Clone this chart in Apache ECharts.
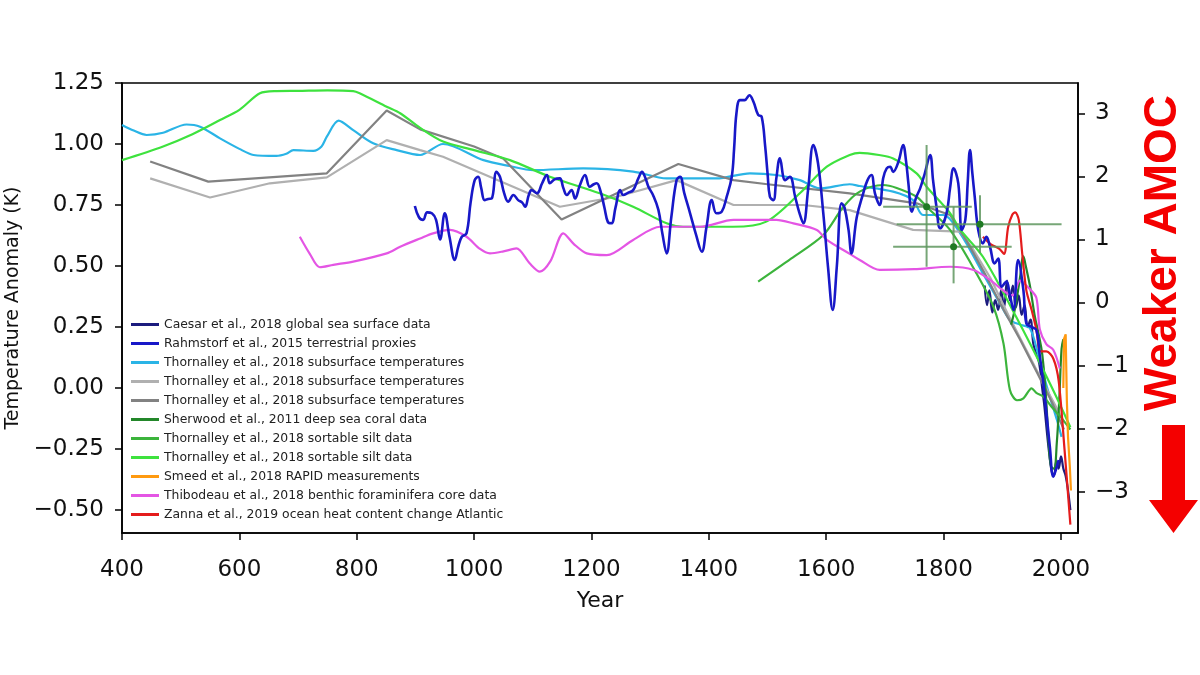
<!DOCTYPE html>
<html>
<head>
<meta charset="utf-8">
<title>AMOC proxies</title>
<script src="https://cdn.jsdelivr.net/npm/echarts@6.0.0/dist/echarts.min.js"></script>
<style>
  html, body { margin: 0; padding: 0; background: #fff; }
  #main { width: 1200px; height: 675px; }
</style>
</head>
<body>
<div id="main"></div>
<script>
// legend names (trailing spaces keep the repeated names apart in the legend)
const names = [
  'Caesar et al., 2018 global sea surface data',
  'Rahmstorf et al., 2015 terrestrial proxies',
  'Thornalley et al., 2018 subsurface temperatures',
  'Thornalley et al., 2018 subsurface temperatures ',
  'Thornalley et al., 2018 subsurface temperatures  ',
  'Sherwood et al., 2011 deep sea coral data',
  'Thornalley et al., 2018 sortable silt data',
  'Thornalley et al., 2018 sortable silt data ',
  'Smeed et al., 2018 RAPID measurements',
  'Thibodeau et al., 2018 benthic foraminifera core data',
  'Zanna et al., 2019 ocean heat content change Atlantic'
]
const colors = ['#1c1c7e', '#1818c8', '#2ab4e6', '#b0b0b0', '#828282', '#23872a',
  '#3cb43c', '#3ee23e', '#ff9a10', '#e455e4', '#e41c1c']

// tick labels
const xTicks = [400, 600, 800, 1000, 1200, 1400, 1600, 1800, 2000]
const leftTicks = [-0.5, -0.25, 0, 0.25, 0.5, 0.75, 1, 1.25]
const rightTicks = [-3, -2, -1, 0, 1, 2, 3]

// [year, anomaly K]
const caesar = [[1870, 0.42], [1874, 0.34], [1878, 0.40], [1883, 0.31], [1888, 0.36], [1893, 0.32],
  [1898, 0.40], [1903, 0.33], [1908, 0.44], [1913, 0.36], [1918, 0.42], [1923, 0.33], [1928, 0.38],
  [1933, 0.30], [1938, 0.34], [1943, 0.25], [1948, 0.28], [1953, 0.18], [1958, 0.14], [1963, 0.10],
  [1968, 0.0], [1972, -0.08], [1976, -0.18], [1980, -0.27], [1984, -0.34], [1988, -0.36], [1992, -0.30],
  [1996, -0.33], [2000, -0.28], [2004, -0.33], [2008, -0.36], [2012, -0.42], [2016, -0.50]]

const rahmstorf = [[899, 0.746], [906, 0.70], [913, 0.689], [920, 0.72], [928, 0.716], [935, 0.69],
  [942, 0.609], [950, 0.716], [958, 0.62], [967, 0.525], [973, 0.58], [979, 0.62], [987, 0.634],
  [994, 0.76], [1001, 0.852], [1007, 0.866], [1012, 0.82], [1018, 0.77], [1024, 0.775], [1030, 0.777],
  [1038, 0.886], [1044, 0.866], [1051, 0.80], [1058, 0.764], [1067, 0.791], [1075, 0.77], [1082, 0.76],
  [1087, 0.743], [1093, 0.79], [1098, 0.811], [1107, 0.798], [1116, 0.84], [1124, 0.873], [1129, 0.839],
  [1137, 0.855], [1146, 0.859], [1152, 0.82], [1158, 0.791], [1166, 0.811], [1172, 0.777], [1180, 0.83],
  [1189, 0.873], [1197, 0.825], [1204, 0.835], [1209, 0.839], [1215, 0.81], [1222, 0.74], [1228, 0.68],
  [1234, 0.675], [1241, 0.74], [1249, 0.811], [1254, 0.791], [1262, 0.80], [1271, 0.811], [1280, 0.86],
  [1286, 0.886], [1292, 0.86], [1297, 0.825], [1305, 0.79], [1314, 0.73], [1321, 0.63], [1328, 0.552],
  [1336, 0.70], [1345, 0.852], [1351, 0.866], [1358, 0.80], [1368, 0.716], [1378, 0.63], [1388, 0.559],
  [1396, 0.66], [1405, 0.77], [1413, 0.716], [1422, 0.723], [1430, 0.78], [1439, 0.866], [1443, 0.98],
  [1447, 1.126], [1453, 1.18], [1461, 1.18], [1469, 1.20], [1476, 1.173], [1484, 1.119], [1490, 1.112],
  [1496, 0.989], [1500, 0.88], [1504, 0.784], [1510, 0.77], [1515, 0.86], [1521, 0.941], [1530, 0.852],
  [1538, 0.866], [1547, 0.784], [1554, 0.72], [1561, 0.675], [1569, 0.811], [1578, 0.996], [1586, 0.921],
  [1595, 0.716], [1603, 0.497], [1611, 0.32], [1618, 0.497], [1626, 0.757], [1631, 0.74], [1638, 0.648],
  [1643, 0.552], [1652, 0.70], [1663, 0.798], [1670, 0.85], [1677, 0.873], [1683, 0.798], [1691, 0.75],
  [1697, 0.86], [1703, 0.90], [1709, 0.907], [1714, 0.886], [1723, 0.927], [1731, 0.996], [1736, 0.93],
  [1740, 0.839], [1746, 0.723], [1753, 0.78], [1760, 0.818], [1768, 0.88], [1777, 0.955], [1782, 0.852],
  [1788, 0.74], [1794, 0.655], [1805, 0.716], [1811, 0.82], [1817, 0.90], [1825, 0.839], [1831, 0.648],
  [1837, 0.689], [1841, 0.84], [1845, 0.975], [1849, 0.88], [1853, 0.784], [1859, 0.648], [1867, 0.593],
  [1873, 0.62], [1879, 0.579], [1887, 0.511], [1893, 0.531], [1899, 0.415], [1907, 0.436], [1913, 0.38],
  [1919, 0.32], [1927, 0.525], [1936, 0.40], [1941, 0.265], [1950, 0.25], [1958, 0.238], [1964, 0.13],
  [1970, 0.019], [1976, -0.12], [1981, -0.24], [1987, -0.363], [1992, -0.33], [1996, -0.295]]

const subsurfCyan = [[400, 1.078], [420, 1.055], [442, 1.037], [470, 1.046], [510, 1.08], [533, 1.071],
  [567, 1.023], [600, 0.98], [624, 0.955], [663, 0.951], [680, 0.96], [692, 0.975], [726, 0.972],
  [740, 0.99], [749, 1.03], [769, 1.096], [794, 1.057], [828, 1.003], [868, 0.975], [908, 0.955],
  [947, 1.0], [1016, 0.934], [1060, 0.91], [1101, 0.893], [1186, 0.90], [1271, 0.887], [1328, 0.859],
  [1413, 0.859], [1470, 0.88], [1515, 0.873], [1555, 0.852], [1589, 0.818], [1640, 0.835], [1657, 0.828],
  [1714, 0.805], [1748, 0.77], [1765, 0.709], [1799, 0.709], [1828, 0.635], [1867, 0.47], [1896, 0.347],
  [1913, 0.279], [1930, 0.26], [1947, 0.245], [1962, 0.13], [1976, 0.005], [1993, -0.13], [2001, -0.2]]

const subsurfLight = [[448, 0.859], [550, 0.781], [652, 0.839], [749, 0.863], [851, 1.016], [908, 0.975],
  [947, 0.948], [1146, 0.743], [1243, 0.784], [1345, 0.852], [1442, 0.75], [1561, 0.75], [1640, 0.729],
  [1748, 0.648], [1828, 0.641], [1850, 0.57], [1880, 0.45], [1910, 0.30], [1940, 0.16], [1970, 0.02],
  [1990, -0.07], [2005, -0.14]]

const subsurfDark = [[448, 0.928], [547, 0.846], [749, 0.88], [851, 1.137], [908, 1.06], [1000, 0.99],
  [1050, 0.94], [1149, 0.691], [1348, 0.918], [1442, 0.852], [1500, 0.835], [1640, 0.798], [1754, 0.757],
  [1811, 0.709], [1840, 0.60], [1870, 0.47], [1900, 0.33], [1930, 0.20], [1960, 0.06], [1985, -0.06],
  [2005, -0.17]]

const sherwood = [[1915, 0.26], [1922, 0.33], [1930, 0.45], [1936, 0.54], [1940, 0.50], [1947, 0.42],
  [1955, 0.30], [1962, 0.22], [1968, 0.14], [1974, -0.02], [1979, -0.22], [1983, -0.32], [1988, -0.33],
  [1993, -0.22], [1997, -0.05], [2001, 0.16], [2004, 0.20]]

const siltA = [[1484, 0.436], [1540, 0.53], [1595, 0.627], [1629, 0.742], [1657, 0.805], [1697, 0.832],
  [1720, 0.82], [1754, 0.784], [1771, 0.743], [1811, 0.648], [1856, 0.47], [1885, 0.333], [1902, 0.183],
  [1913, -0.008], [1925, -0.05], [1936, -0.042], [1950, -0.001], [1958, -0.02], [1970, -0.035],
  [1985, -0.08], [2000, -0.12], [2016, -0.17]]

const siltB = [[400, 0.934], [470, 0.99], [520, 1.04], [567, 1.098], [600, 1.14], [635, 1.208],
  [663, 1.217], [700, 1.218], [750, 1.22], [794, 1.217], [805, 1.208], [851, 1.153], [874, 1.126],
  [908, 1.066], [947, 1.01], [1000, 0.975], [1061, 0.934], [1129, 0.866], [1214, 0.798], [1271, 0.743],
  [1328, 0.675], [1356, 0.661], [1441, 0.661], [1498, 0.682], [1555, 0.798], [1601, 0.907], [1640, 0.955],
  [1657, 0.964], [1690, 0.955], [1714, 0.941], [1754, 0.88], [1771, 0.825], [1811, 0.717], [1828, 0.65],
  [1867, 0.538], [1924, 0.29], [1981, 0.02], [2016, -0.16]]

const smeed = [[2004, 0.0], [2005, 0.2], [2008, 0.22], [2010, -0.05], [2012, -0.2], [2015, -0.32], [2017, -0.42]]

const thibodeau = [[703, 0.62], [720, 0.55], [737, 0.495], [760, 0.505], [794, 0.518], [851, 0.552],
  [874, 0.579], [908, 0.613], [930, 0.634], [959, 0.648], [987, 0.62], [1010, 0.57], [1027, 0.552],
  [1050, 0.56], [1072, 0.572], [1095, 0.51], [1112, 0.477], [1130, 0.52], [1152, 0.634], [1170, 0.59],
  [1192, 0.552], [1226, 0.545], [1271, 0.607], [1317, 0.661], [1385, 0.661], [1442, 0.689], [1515, 0.689],
  [1544, 0.675], [1584, 0.648], [1601, 0.607], [1640, 0.55], [1657, 0.525], [1691, 0.484], [1750, 0.487],
  [1811, 0.497], [1851, 0.484], [1879, 0.443], [1907, 0.39], [1918, 0.38], [1930, 0.44], [1945, 0.41],
  [1958, 0.37], [1964, 0.24], [1975, 0.18], [1987, 0.156], [1998, 0.08]]

const zanna = [[1867, 0.62], [1880, 0.59], [1895, 0.57], [1903, 0.55], [1910, 0.66], [1917, 0.71],
  [1922, 0.72], [1928, 0.69], [1934, 0.55], [1941, 0.40], [1950, 0.32], [1958, 0.24], [1965, 0.15],
  [1975, 0.15], [1987, 0.12], [1996, 0.03], [2006, -0.25], [2016, -0.56]]

// error crosses
const errYear = [1771, 1862, 1817]
const errValue = [0.743, 0.671, 0.579]
const errYearLo = [1697, 1720, 1714]
const errYearHi = [1848, 2001, 1916]
const errValueLo = [0.497, 0.553, 0.429]
const errValueHi = [0.996, 0.79, 0.743]

const seriesData = [caesar, rahmstorf, subsurfCyan, subsurfLight, subsurfDark, sherwood,
  siltA, siltB, smeed, thibodeau, zanna]
const smoothing = [0.4, 0.4, 0.3, 0, 0, 0.4, 0.3, 0.3, 0, 0.3, 0.3]

const minus = s => String(s).replace('-', '\u2212')
const font = 'DejaVu Sans'

const chart = echarts.init(document.getElementById('main'))

const lines = seriesData.map((d, i) => ({
  name: names[i],
  type: 'line',
  data: d,
  showSymbol: false,
  smooth: smoothing[i],
  lineStyle: { color: colors[i], width: i === 1 ? 2.6 : 2.2 },
  itemStyle: { color: colors[i] },
  animation: false,
  z: i === 1 ? 3 : 2
}))

const errRows = errYear.map((y, i) => [y, errValue[i], errYearLo[i], errYearHi[i], errValueLo[i], errValueHi[i]])

const option = {
  animation: false,
  grid: {
    left: 122, right: 122, top: 83, bottom: 142,
    outerBoundsMode: 'none',
    show: true, borderColor: '#000', borderWidth: 1.6
  },
  legend: {
    data: names,
    orient: 'vertical',
    left: 126,
    top: 312,
    icon: 'rect',
    itemWidth: 28,
    itemHeight: 3,
    itemGap: 4,
    itemTextGap: 10,
    textStyle: { fontFamily: font, fontSize: 12.4, color: '#222', lineHeight: 15 }
  },
  xAxis: {
    type: 'value',
    min: 400,
    max: 2029,
    name: 'Year',
    nameLocation: 'middle',
    nameGap: 57,
    nameTextStyle: { fontFamily: font, fontSize: 22, color: '#111' },
    axisLine: { onZero: false, lineStyle: { color: '#000', width: 1.6 } },
    axisTick: { customValues: xTicks, length: 7, lineStyle: { color: '#000', width: 1.5 } },
    axisLabel: { customValues: xTicks, margin: 26, fontFamily: font, fontSize: 23, color: '#111',
      formatter: v => String(v) },
    splitLine: { show: false }
  },
  yAxis: [{
    type: 'value',
    min: -0.594,
    max: 1.25,
    name: 'Temperature Anomaly (K)',
    nameLocation: 'middle',
    nameGap: 98,
    nameTextStyle: { fontFamily: font, fontSize: 19, color: '#111' },
    axisLine: { show: true, onZero: false, lineStyle: { color: '#000', width: 1.6 } },
    axisTick: { show: true, customValues: leftTicks, length: 7, lineStyle: { color: '#000', width: 1.5 } },
    axisLabel: { customValues: leftTicks, margin: 18, fontFamily: font, fontSize: 23, color: '#111',
      formatter: v => minus(v.toFixed(2)) },
    splitLine: { show: false }
  }, {
    type: 'value',
    position: 'right',
    min: -3.655,
    max: 3.48,
    axisLine: { show: true, onZero: false, lineStyle: { color: '#000', width: 1.6 } },
    axisTick: { show: true, customValues: rightTicks, length: 7, lineStyle: { color: '#000', width: 1.5 } },
    axisLabel: { customValues: rightTicks, margin: 17, fontFamily: font, fontSize: 23, color: '#111',
      formatter: v => minus(v) },
    splitLine: { show: false }
  }],
  series: lines.concat([{
    type: 'custom',
    name: 'errors',
    data: errRows,
    z: 4,
    renderItem: function (params, api) {
      const c = api.coord([api.value(0), api.value(1)])
      const xl = api.coord([api.value(2), api.value(1)])
      const xh = api.coord([api.value(3), api.value(1)])
      const yl = api.coord([api.value(0), api.value(4)])
      const yh = api.coord([api.value(0), api.value(5)])
      const st = { stroke: '#5f975f', lineWidth: 2, opacity: 0.85 }
      return {
        type: 'group',
        children: [
          { type: 'line', shape: { x1: xl[0], y1: c[1], x2: xh[0], y2: c[1] }, style: st },
          { type: 'line', shape: { x1: c[0], y1: yl[1], x2: c[0], y2: yh[1] }, style: st },
          { type: 'circle', shape: { cx: c[0], cy: c[1], r: 3.5 }, style: { fill: '#1f7a23' } }
        ]
      }
    }
  }]),
  graphic: [
    {
      type: 'text',
      x: 1163,
      y: 253,
      rotation: Math.PI / 2,
      style: {
        text: 'Weaker AMOC',
        font: 'bold 46px "Liberation Sans", Arial, sans-serif',
        fill: '#f40000',
        align: 'center',
        verticalAlign: 'middle'
      }
    },
    {
      type: 'polygon',
      shape: { points: [[1162, 425], [1185, 425], [1185, 500], [1198, 500], [1173.5, 533], [1149, 500], [1162, 500]] },
      style: { fill: '#f40000' }
    }
  ]
}

chart.setOption(option)
</script>
</body>
</html>
